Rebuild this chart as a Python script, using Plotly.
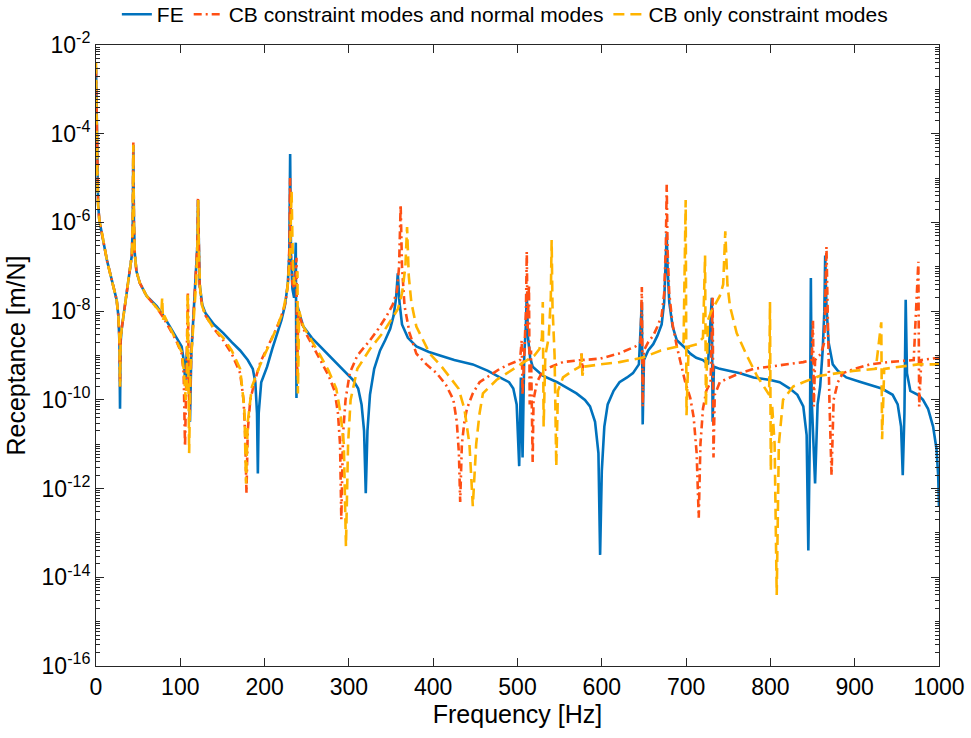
import plotly.graph_objects as go

# Frequency [Hz] and receptance [m/N], one pair of lists per curve
FE_FREQ = [
    0, 0.8, 1.6, 2.5, 4, 6.7, 10, 13, 16.6, 20, 24.5, 26.5, 27.8, 28.5, 29.2, 30.5,
    34.4, 40.3, 42.5, 43.6, 44.3, 45, 46, 48, 52, 60, 72, 80, 88, 95, 101.6, 104,
    106, 107.5, 108.5, 110, 111.5, 113, 116, 118.5, 120.3, 121, 121.7, 123, 126, 130,
    140, 151, 161, 171, 180, 186, 189, 191, 192, 193, 196, 203, 209, 215, 220, 224,
    227.5, 229.3, 230.3, 231.3, 233, 235, 237, 237.8, 239, 242, 246, 256, 266, 276,
    286, 296, 305, 311, 315, 318, 320, 322, 325, 330, 337, 343, 349, 353, 356, 358,
    360, 363, 370, 380, 395, 408, 425, 447, 465, 479, 490, 495, 499, 502, 504, 506,
    508, 510, 511, 512.5, 515, 518, 530, 547, 560, 570, 580, 586, 592, 596, 598, 600,
    603, 607, 614, 621, 630, 637, 644, 647.5, 648.5, 650, 655, 661, 666, 671, 674,
    676, 677, 678, 680, 684, 689, 697, 705, 712, 720, 726, 730.5, 731.5, 733, 740,
    752, 764, 780, 800, 811, 823, 832, 839, 843, 845, 847, 848, 849, 853, 856, 859,
    862, 864, 865, 866.5, 869, 874, 880, 890, 905, 918, 932, 945, 951, 955, 957, 959,
    960.5, 962, 966, 975, 981, 987, 993, 997, 999, 1000,
]
FE_REC = [
    3.2e-3, 1.0e-4, 1.0e-5, 2.5e-6, 1.1e-6, 6.3e-7, 2.8e-7, 1.4e-7, 7.2e-8, 4.0e-8,
    1.8e-8, 7.9e-9, 2.0e-9, 6.3e-11, 2.0e-9, 4.0e-9, 1.3e-8, 7.2e-8, 1.8e-7, 1.0e-6,
    5.6e-5, 1.0e-6, 2.0e-7, 7.9e-8, 4.3e-8, 2.2e-8, 1.3e-8, 7.9e-9, 4.4e-9, 2.5e-9,
    1.6e-9, 7.9e-10, 2.5e-10, 1.0e-9, 1.3e-9, 3.2e-10, 3.2e-11, 1.0e-9, 1.0e-8, 5.0e-8,
    3.2e-7, 3.2e-6, 2.5e-7, 4.0e-8, 1.4e-8, 8.9e-9, 5.0e-9, 3.2e-9, 2.0e-9, 1.3e-9,
    7.9e-10, 5.0e-10, 2.5e-10, 5.0e-11, 2.2e-12, 5.0e-11, 2.5e-10, 5.6e-10, 1.4e-9,
    3.2e-9, 6.3e-9, 1.3e-8, 4.0e-8, 2.0e-7, 3.5e-5, 2.0e-7, 3.2e-8, 2.0e-8, 3.5e-7,
    1.1e-10, 1.3e-8, 7.9e-9, 4.5e-9, 2.5e-9, 1.6e-9, 1.0e-9, 6.3e-10, 4.0e-10, 2.8e-10,
    1.8e-10, 7.9e-11, 2.0e-11, 7.9e-13, 2.0e-11, 1.3e-10, 5.0e-10, 1.3e-9, 2.2e-9,
    4.0e-9, 7.9e-9, 2.0e-8, 7.1e-8, 1.6e-8, 5.0e-9, 2.5e-9, 1.6e-9, 1.2e-9, 1.0e-9,
    7.9e-10, 6.3e-10, 4.5e-10, 3.2e-10, 2.5e-10, 1.8e-10, 7.9e-11, 3.2e-12, 3.2e-10,
    5.0e-12, 1.0e-9, 5.0e-9, 2.5e-8, 2.5e-9, 8.9e-10, 5.6e-10, 3.5e-10, 2.5e-10,
    1.8e-10, 1.4e-10, 1.0e-10, 7.1e-11, 3.2e-11, 6.3e-12, 3.2e-14, 2.5e-12, 2.5e-11,
    7.9e-11, 1.6e-10, 2.5e-10, 3.2e-10, 4.0e-10, 6.3e-10, 1.6e-8, 2.8e-11, 7.9e-10,
    1.3e-9, 1.8e-9, 2.8e-9, 5.0e-9, 1.6e-8, 1.0e-7, 5.6e-7, 1.0e-7, 1.6e-8, 4.5e-9,
    2.2e-9, 1.6e-9, 1.1e-9, 8.9e-10, 7.9e-10, 6.3e-10, 2.0e-8, 3.2e-11, 5.6e-10,
    5.0e-10, 4.5e-10, 4.0e-10, 3.2e-10, 2.8e-10, 2.5e-10, 1.8e-10, 1.3e-10, 7.1e-11,
    1.6e-11, 4.0e-14, 3.2e-11, 5.6e-8, 1.0e-10, 1.3e-12, 7.9e-11, 2.0e-10, 1.3e-9,
    1.0e-8, 1.8e-7, 1.3e-8, 2.0e-9, 6.3e-10, 4.5e-10, 3.2e-10, 2.6e-10, 2.2e-10,
    1.8e-10, 1.3e-10, 7.9e-11, 2.5e-11, 2.0e-12, 5.0e-11, 1.8e-8, 4.0e-10, 1.6e-10,
    1.3e-10, 1.0e-10, 6.3e-11, 2.5e-11, 7.9e-12, 2.0e-12, 4.0e-13,
]

CBN_FREQ = [
    0, 0.8, 1.6, 2.5, 4, 6.7, 10, 13, 16.6, 20, 24.5, 26.5, 27.8, 28.5, 29.2, 30.5,
    34.4, 40.3, 42.5, 43.6, 44.3, 45, 46, 48, 52, 60, 72, 80, 88, 95, 101.6, 104,
    105.6, 107, 109, 110, 111, 113, 116, 118.5, 120.3, 121, 121.7, 123, 126, 130, 140,
    151, 161, 171, 175, 177, 178.5, 180, 183, 188, 195, 206, 214, 220, 225, 228, 229.5,
    230.2, 231, 233, 236, 237.8, 238.5, 240, 246, 256, 266, 276, 283, 287, 289.5, 291,
    293, 296, 301, 310, 325, 335, 345, 352, 357, 359.5, 361.4, 363, 366, 372, 380, 392,
    404, 415, 424, 428, 430.5, 432, 434, 437, 440, 447, 455, 467, 479, 490, 503, 505,
    506, 508, 510, 511, 512, 513.6, 514.5, 516, 518, 519, 523, 530, 540, 554, 575, 576,
    577, 578, 598, 620, 640, 646, 647.5, 648.5, 650, 655, 661, 666, 671, 674, 676, 677,
    678, 680, 684, 689, 693, 699, 705, 709, 712.5, 715, 717, 720, 724, 729, 731.5,
    732.5, 734, 740, 752, 764, 780, 800, 820, 839, 849, 850.5, 851.5, 853, 860, 864,
    866.5, 868, 870, 872.5, 875, 880, 886, 900, 918, 940, 957, 970, 975.5, 976.5, 979,
    990, 1000,
]
CBN_REC = [
    2.8e-3, 1.0e-4, 1.0e-5, 2.5e-6, 1.1e-6, 6.3e-7, 2.8e-7, 1.4e-7, 7.2e-8, 4.0e-8,
    1.8e-8, 7.9e-9, 2.5e-9, 2.0e-10, 2.5e-9, 4.0e-9, 1.3e-8, 7.2e-8, 1.8e-7, 1.0e-6,
    6.3e-5, 1.0e-6, 2.0e-7, 7.9e-8, 4.3e-8, 2.2e-8, 1.2e-8, 7.1e-9, 3.9e-9, 2.2e-9,
    1.1e-9, 4.0e-10, 8.9e-12, 3.2e-10, 2.5e-8, 3.2e-10, 4.0e-11, 1.0e-9, 1.0e-8, 5.0e-8,
    3.2e-7, 3.5e-6, 2.5e-7, 3.2e-8, 1.3e-8, 7.9e-9, 4.0e-9, 2.2e-9, 1.1e-9, 4.0e-10,
    1.0e-10, 1.6e-11, 7.9e-13, 2.0e-11, 1.0e-10, 2.5e-10, 7.1e-10, 2.0e-9, 4.0e-9,
    7.9e-9, 1.6e-8, 5.0e-8, 3.2e-7, 1.0e-5, 2.0e-7, 4.0e-8, 3.2e-8, 1.6e-7, 3.2e-10,
    1.0e-8, 4.0e-9, 1.8e-9, 7.9e-10, 3.5e-10, 1.6e-10, 5.0e-11, 1.0e-11, 2.0e-13,
    1.6e-11, 1.0e-10, 4.0e-10, 1.0e-9, 2.2e-9, 4.0e-9, 7.9e-9, 1.4e-8, 2.8e-8, 1.0e-7,
    2.5e-6, 1.0e-7, 1.3e-8, 3.2e-9, 1.1e-9, 6.3e-10, 4.0e-10, 2.2e-10, 1.0e-10,
    3.2e-11, 6.3e-12, 5.0e-13, 1.0e-11, 3.2e-11, 6.3e-11, 1.4e-10, 2.5e-10, 3.5e-10,
    5.0e-10, 6.3e-10, 7.9e-10, 2.2e-9, 1.3e-10, 1.0e-9, 1.0e-8, 2.2e-7, 4.0e-9, 4.0e-8,
    7.9e-11, 1.3e-9, 4.0e-12, 1.0e-10, 2.5e-10, 4.5e-10, 5.6e-10, 7.1e-10, 7.9e-10,
    1.1e-9, 4.5e-10, 7.9e-10, 8.5e-10, 1.1e-9, 1.6e-9, 2.0e-9, 3.5e-8, 7.1e-11, 1.3e-9,
    2.0e-9, 2.8e-9, 4.5e-9, 7.9e-9, 2.5e-8, 3.2e-7, 7.1e-6, 2.5e-7, 2.5e-8, 5.0e-9,
    1.6e-9, 7.9e-10, 2.5e-10, 1.1e-10, 4.0e-11, 6.3e-12, 2.2e-13, 1.0e-11, 6.3e-11,
    1.6e-10, 2.5e-10, 2.0e-8, 5.0e-12, 1.3e-10, 2.5e-10, 3.2e-10, 4.0e-10, 5.0e-10,
    5.6e-10, 6.3e-10, 7.1e-10, 7.9e-10, 6.3e-9, 7.1e-11, 7.9e-10, 1.1e-9, 2.0e-9,
    2.8e-7, 4.0e-9, 1.0e-10, 2.0e-12, 1.0e-10, 2.5e-10, 4.0e-10, 5.0e-10, 6.3e-10,
    7.1e-10, 7.6e-10, 7.9e-10, 1.3e-7, 7.1e-11, 7.9e-10, 8.3e-10, 8.9e-10,
]

CBC_FREQ = [
    0, 0.8, 1.6, 2.5, 4, 6.7, 10, 13, 16.6, 20, 24.5, 26.5, 27.8, 28.5, 29.2, 30.5,
    34.4, 40.3, 42.5, 43.6, 44.3, 45, 46, 48, 52, 60, 72, 77.5, 78.5, 79.5, 81, 88, 95,
    101.6, 104, 106.5, 107.8, 108.8, 109.6, 110.5, 112, 116, 119, 120.5, 121.2, 122,
    123.5, 126, 130, 140, 151, 161, 171, 176, 178, 180, 185, 195, 206, 215, 222, 227,
    230, 232, 233.5, 235, 237.5, 239, 239.5, 241, 246, 256, 266, 276, 285, 290, 294,
    296.5, 299, 302, 310, 325, 340, 350, 358, 363, 367, 369, 371, 374, 380, 396, 410,
    420, 430, 437, 443, 447, 451, 455, 459, 475, 495, 511, 520, 526, 529, 530, 531,
    533, 537, 539.5, 540.5, 541.5, 544, 546, 548, 554, 565, 574, 576, 577, 579, 598,
    621, 648, 670, 690, 697, 699.5, 700.5, 703, 713, 720, 722.5, 723.5, 726, 730, 740,
    744, 746.5, 749, 752, 760, 772, 784, 795, 798.5, 799.5, 800.5, 802, 805, 807.5,
    810, 815, 827, 839, 859, 898, 925, 931.5, 932.5, 935, 957, 975, 1000,
]
CBC_REC = [
    4.0e-3, 1.0e-4, 1.0e-5, 2.5e-6, 1.1e-6, 6.3e-7, 2.8e-7, 1.4e-7, 7.2e-8, 4.0e-8,
    1.8e-8, 7.9e-9, 2.5e-9, 2.0e-10, 2.5e-9, 4.0e-9, 1.3e-8, 7.2e-8, 1.8e-7, 1.0e-6,
    5.6e-5, 1.0e-6, 2.0e-7, 7.9e-8, 4.3e-8, 2.2e-8, 1.2e-8, 9.0e-9, 2.0e-8, 6.3e-9,
    7.9e-9, 4.0e-9, 2.2e-9, 1.2e-9, 5.0e-10, 1.0e-10, 2.5e-10, 2.5e-8, 2.0e-10,
    6.3e-12, 5.0e-10, 6.3e-9, 5.0e-8, 4.0e-7, 3.2e-6, 2.0e-7, 3.2e-8, 1.3e-8, 7.9e-9,
    4.0e-9, 2.5e-9, 1.3e-9, 5.0e-10, 6.3e-11, 1.3e-12, 3.2e-11, 2.0e-10, 6.3e-10,
    1.8e-9, 4.5e-9, 1.0e-8, 3.2e-8, 1.6e-7, 5.0e-6, 1.3e-7, 4.0e-8, 5.0e-8, 7.9e-8,
    1.4e-10, 1.0e-8, 4.5e-9, 2.2e-9, 1.0e-9, 4.5e-10, 1.8e-10, 5.0e-11, 1.0e-11,
    5.0e-14, 1.0e-11, 1.0e-10, 5.0e-10, 1.4e-9, 3.2e-9, 6.3e-9, 1.1e-8, 2.5e-8, 1.0e-7,
    7.9e-7, 6.3e-8, 1.6e-8, 4.5e-9, 1.1e-9, 5.6e-10, 3.2e-10, 1.8e-10, 6.3e-11,
    1.0e-11, 4.0e-13, 1.0e-11, 5.0e-11, 1.4e-10, 2.8e-10, 5.0e-10, 7.9e-10, 1.0e-9,
    1.4e-9, 2.5e-9, 1.6e-8, 2.5e-11, 1.0e-9, 2.5e-9, 2.0e-8, 4.0e-7, 1.3e-8, 1.0e-9,
    3.2e-12, 1.6e-10, 3.2e-10, 4.5e-10, 5.6e-10, 1.1e-9, 3.5e-10, 5.6e-10, 6.3e-10,
    7.1e-10, 8.9e-10, 1.3e-9, 1.6e-9, 2.0e-9, 3.2e-6, 4.5e-11, 1.6e-9, 1.8e-9, 2.5e-9,
    1.8e-7, 7.1e-11, 6.3e-9, 1.0e-8, 2.2e-8, 4.0e-8, 6.3e-7, 4.0e-8, 1.3e-8, 3.2e-9,
    1.0e-9, 3.5e-10, 1.6e-10, 1.3e-10, 1.6e-8, 2.5e-12, 7.9e-11, 1.0e-11, 4.0e-15,
    1.0e-11, 1.0e-10, 2.0e-10, 2.5e-10, 3.5e-10, 4.5e-10, 5.0e-10, 5.6e-9, 1.3e-11,
    5.0e-10, 5.6e-10, 6.3e-10, 6.3e-10,
]

SERIES = [
    ("FE", FE_FREQ, FE_REC, "#0072BD", "solid"),
    ("CB constraint modes and normal modes", CBN_FREQ, CBN_REC, "#FF4F14", "8px,4px,2px,4px"),
    ("CB only constraint modes", CBC_FREQ, CBC_REC, "#FFB400", "11px,6px"),
]

FONT = "Liberation Sans, Arial, sans-serif"
AXIS_COLOR = "#262626"

fig = go.Figure()
for name, freq, rec, color, dash in SERIES:
    fig.add_trace(
        go.Scatter(
            x=freq,
            y=rec,
            mode="lines",
            name=name,
            line={"color": color, "width": 2.6, "dash": dash},
        )
    )

major_y = [10.0**p for p in range(-16, -1, 2)]
minor_y = [k * 10.0**p for p in range(-16, -2) for k in range(1, 10) if not (k == 1 and p % 2 == 0)]

fig.update_xaxes(
    range=[0, 1000],
    tickvals=list(range(0, 1001, 100)),
    ticks="inside",
    ticklen=8,
    tickcolor=AXIS_COLOR,
    showline=True,
    linecolor=AXIS_COLOR,
    linewidth=1,
    mirror="ticks",
    showgrid=False,
    zeroline=False,
    tickfont={"size": 23, "color": "black"},
    title={"text": "Frequency [Hz]", "font": {"size": 25, "color": "black"}, "standoff": 3},
)
fig.update_yaxes(
    type="log",
    range=[-16, -2],
    tickvals=major_y,
    ticktext=[f"10<sup>{p}</sup>" for p in range(-16, -1, 2)],
    ticks="inside",
    ticklen=8,
    tickcolor=AXIS_COLOR,
    minor={"tickvals": minor_y, "ticks": "inside", "ticklen": 4, "tickcolor": AXIS_COLOR},
    showline=True,
    linecolor=AXIS_COLOR,
    linewidth=1,
    mirror="ticks",
    showgrid=False,
    zeroline=False,
    tickfont={"size": 23, "color": "black"},
    title={"text": "Receptance [m/N]", "font": {"size": 25, "color": "black"}, "standoff": 8},
)

fig.update_layout(
    width=971,
    height=738,
    margin={"l": 96, "r": 32, "t": 45, "b": 72, "autoexpand": False},
    paper_bgcolor="white",
    plot_bgcolor="white",
    font={"family": FONT, "color": "black"},
    showlegend=True,
    legend={
        "orientation": "h",
        "x": 0.485,
        "xanchor": "center",
        "y": 1.049,
        "yanchor": "middle",
        "font": {"size": 21},
        "itemwidth": 30,
        "tracegroupgap": 0,
        "bgcolor": "rgba(0,0,0,0)",
    },
)

# drop the default page margin so the figure sits at the window's top-left corner
fig.write_html(
    "out.html",
    config={"displayModeBar": False},
    post_script="document.body.style.margin = '0px';",
)
